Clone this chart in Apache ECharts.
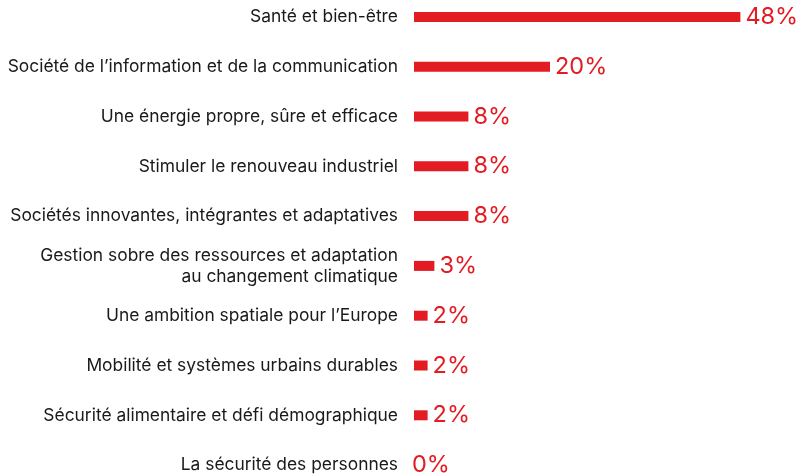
<!DOCTYPE html>
<html>
<head>
<meta charset="utf-8">
<script src="https://cdn.jsdelivr.net/npm/echarts@6/dist/echarts.min.js"></script>
<style>
  html, body { margin: 0; padding: 0; background: #fff; }
  #chart { width: 802px; height: 476px; }
</style>
</head>
<body>
<div id="chart"></div>
<script>
// thèmes (haut -> bas)
var categories = [
    'Santé et bien-être',
    'Société de l’information et de la communication',
    'Une énergie propre, sûre et efficace',
    'Stimuler le renouveau industriel',
    'Sociétés innovantes, intégrantes et adaptatives',
    'Gestion sobre des ressources et adaptation\nau changement climatique',
    'Une ambition spatiale pour l’Europe',
    'Mobilité et systèmes urbains durables',
    'Sécurité alimentaire et défi démographique',
    'La sécurité des personnes'
];
var values = [48, 20, 8, 8, 8, 3, 2, 2, 2, 0];

var red = '#e31b23';
var chart = echarts.init(document.getElementById('chart'));

// la valeur nulle a son étiquette collée à l'axe
var barData = values.map(function (v) {
    return v === 0 ? { value: v, label: { distance: -2 } } : v;
});

var option = {
    animation: false,
    grid: {
        left: 414,
        top: -8,
        width: 340,
        height: 498,
        outerBoundsMode: 'none',
        containLabel: false
    },
    xAxis: {
        type: 'value',
        min: 0,
        max: 50,
        show: false
    },
    yAxis: {
        type: 'category',
        inverse: true,
        data: categories,
        axisLine: { show: false },
        axisTick: { show: false },
        splitLine: { show: false },
        axisLabel: {
            margin: 16,
            color: '#1a1a1a',
            fontFamily: 'Inter',
            fontSize: 17.4,
            lineHeight: 21,
            align: 'right'
        }
    },
    series: [
        {
            type: 'bar',
            data: barData,
            barWidth: 10,
            itemStyle: { color: red },
            label: {
                show: true,
                position: 'right',
                distance: 5,
                color: red,
                fontFamily: 'Inter',
                fontSize: 23.5,
                formatter: '{c}%'
            }
        }
    ]
};
chart.setOption(option);
</script>
</body>
</html>
